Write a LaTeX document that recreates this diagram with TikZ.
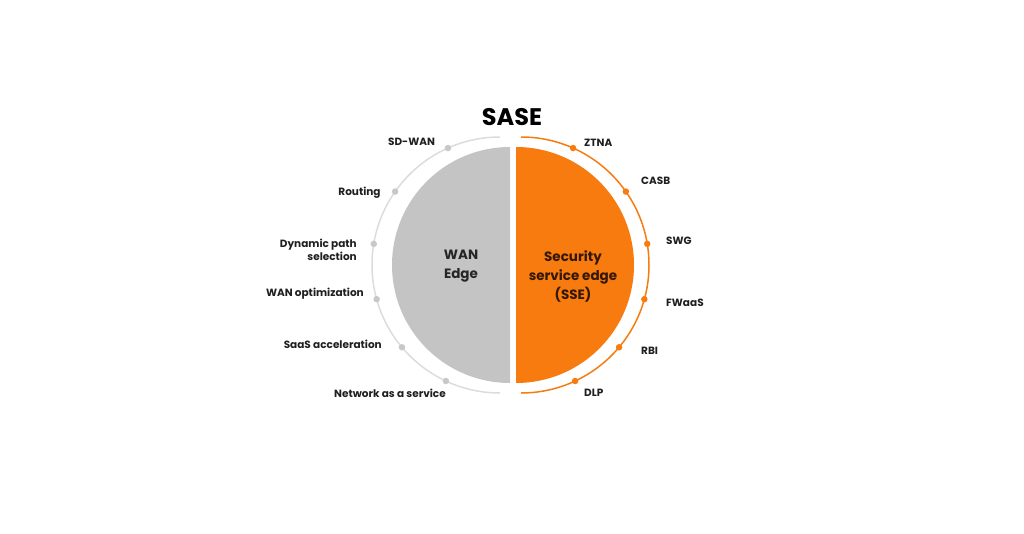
\documentclass[tikz,border=0pt]{standalone}
\usepackage{fontspec}
\setmainfont{Poppins}
\usetikzlibrary{positioning,calc}
\definecolor{sseorange}{RGB}{247,123,14}
\definecolor{wangray}{RGB}{196,196,196}
\definecolor{ringgray}{RGB}{220,220,220}
\definecolor{dotgray}{RGB}{200,200,200}
\definecolor{ssetext}{RGB}{52,24,4}
\tikzset{
  feat/.style={font=\bfseries\fontsize{10.5}{13}\selectfont,text=black!88,inner sep=0pt},
  core/.style={font=\bfseries\fontsize{13.5}{19}\selectfont,align=center,inner sep=0pt},
  dotL/.style={circle,fill=dotgray,inner sep=0pt,minimum size=6.5pt},
  dotR/.style={circle,fill=sseorange,inner sep=0pt,minimum size=6.5pt}
}

\begin{document}
\begin{tikzpicture}[x=1pt,y=1pt]
  \useasboundingbox (-511,-268) rectangle (513,265);
  \coordinate (cwan) at (-1,0);
  \coordinate (csse) at (5,0);
  \coordinate (rwan) at (-11,0);
  \coordinate (rsse) at (10,0);
  % halves
  \fill [wangray] (-1,118) arc [start angle=90,end angle=270,radius=118] -- cycle;
  \fill [sseorange] (5,118) arc [start angle=90,end angle=-90,radius=118] -- cycle;
  % rings
  \draw [ringgray,line width=1.5pt] (-11,128) arc [start angle=90,end angle=270,radius=128];
  \draw [sseorange,line width=1.5pt] (10,128) arc [start angle=90,end angle=-90,radius=128];
  \foreach \a [count=\i] in {114,145,170.5,195.5,220,245}
    \node [dotL] (w\i) at ($(rwan)+(\a:128)$) {};
  \foreach \a [count=\i] in {66,35,9.5,-15.5,-40,-65}
    \node [dotR] (s\i) at ($(rsse)+(\a:128)$) {};
  % texts
  \node [font=\bfseries\fontsize{24}{28}\selectfont,inner sep=0pt] (title) at (1,148) {SASE};
  \node [core,text=black!85] (wan) at (-50,-1) {WAN\\Edge};
  \node [core,text=ssetext] (sse) at (62,-11.5) {Security\\service edge\\(SSE)};
  \node [feat] (l1) at (-99.5,123) {SD-WAN};
  \node [feat] (l2) at (-151.5,72) {Routing};
  \node [feat,anchor=east,align=right] (l3) at (-154,15.5) {Dynamic path\\selection};
  \node [feat,anchor=east] (l4) at (-147,-29) {WAN optimization};
  \node [feat,anchor=east] (l5) at (-129,-79) {SaaS acceleration};
  \node [feat] (l6) at (-121,-128) {Network as a service};
  \node [feat,anchor=west] (r1) at (73,122) {ZTNA};
  \node [feat,anchor=west] (r2) at (130,84) {CASB};
  \node [feat,anchor=west] (r3) at (155,24) {SWG};
  \node [feat,anchor=west] (r4) at (155,-38) {FWaaS};
  \node [feat,anchor=west] (r5) at (130,-86) {RBI};
  \node [feat,anchor=west] (r6) at (73,-128) {DLP};
\end{tikzpicture}
\end{document}
